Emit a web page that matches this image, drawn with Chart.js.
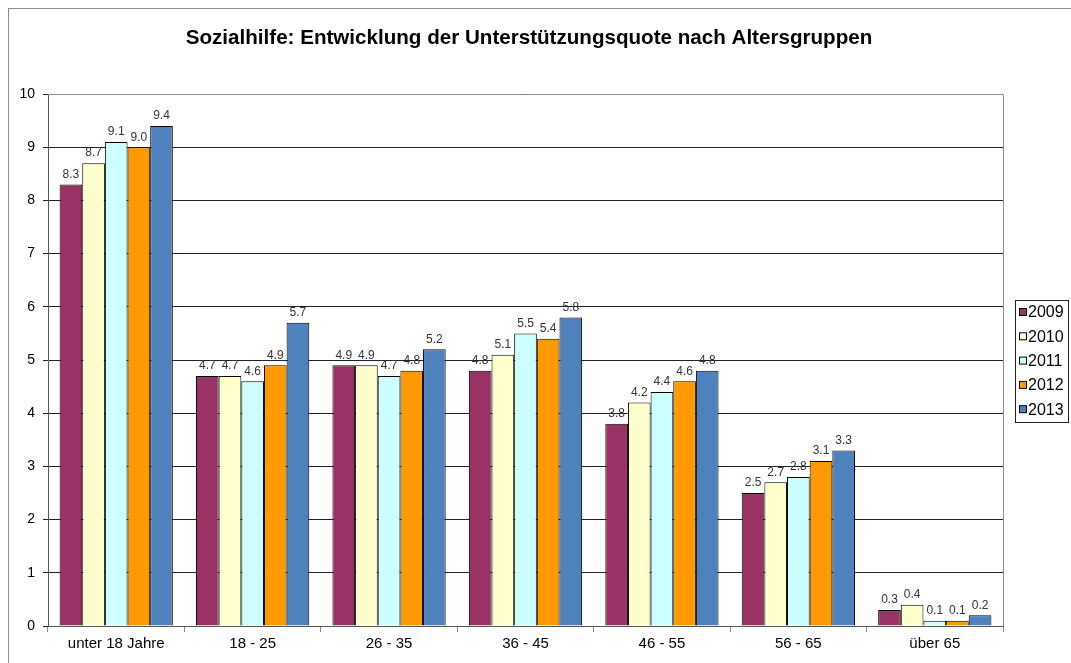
<!DOCTYPE html>
<html lang="de">
<head>
<meta charset="UTF-8">
<title>Sozialhilfe</title>
<script src="https://cdn.jsdelivr.net/npm/chart.js"></script>
<style>
    html, body { margin: 0; padding: 0; background: #fff; }
    canvas { display: block; }
</style>
</head>
<body>
<canvas id="chart" width="1071" height="663"></canvas>
<script>
// data
const groups = ["unter 18 Jahre", "18 - 25", "26 - 35", "36 - 45", "46 - 55", "56 - 65", "über 65"];
const years = ["2009", "2010", "2011", "2012", "2013"];
const y2009 = [8.3, 4.7, 4.9, 4.8, 3.8, 2.5, 0.3];
const y2010 = [8.7, 4.7, 4.9, 5.1, 4.2, 2.7, 0.4];
const y2011 = [9.1, 4.6, 4.7, 5.5, 4.4, 2.8, 0.1];
const y2012 = [9.0, 4.9, 4.8, 5.4, 4.6, 3.1, 0.1];
const y2013 = [9.4, 5.7, 5.2, 5.8, 4.8, 3.3, 0.2];
const colors = ["#993366", "#FFFFCC", "#CCFFFF", "#FF9900", "#4F81BD"];
const title = "Sozialhilfe: Entwicklung der Unterstützungsquote nach Altersgruppen";

const FONT = "'Liberation Sans', Arial, sans-serif";

// frame, title, plot border, value labels and boxed legend
const extras = {
    id: "extras",
    afterDraw(chart) {
        const ctx = chart.ctx;
        const a = chart.chartArea;
        ctx.save();
        // outer chart border
        ctx.strokeStyle = "#8c8c8c";
        ctx.lineWidth = 1;
        ctx.strokeRect(8.5, 8.5, 1100, 700);
        // plot area top/right border
        ctx.beginPath();
        ctx.moveTo(a.left, Math.round(a.top) + 0.5);
        ctx.lineTo(Math.round(a.right) + 0.5, Math.round(a.top) + 0.5);
        ctx.lineTo(Math.round(a.right) + 0.5, a.bottom);
        ctx.stroke();

        // title
        ctx.fillStyle = "#000";
        ctx.font = "bold 20.6px " + FONT;
        ctx.textAlign = "center";
        ctx.textBaseline = "middle";
        ctx.fillText(title, 529, 38);

        // value labels
        ctx.font = "12px " + FONT;
        ctx.fillStyle = "#333";
        ctx.textBaseline = "bottom";
        chart.data.datasets.forEach((ds, i) => {
            chart.getDatasetMeta(i).data.forEach((bar, j) => {
                ctx.fillText(ds.data[j].toFixed(1), bar.x, bar.y - 4);
            });
        });

        // legend
        ctx.strokeStyle = "#222";
        ctx.strokeRect(1015.5, 300.5, 53, 122);
        ctx.font = "16px " + FONT;
        ctx.textAlign = "left";
        ctx.textBaseline = "middle";
        years.forEach((y, i) => {
            const cy = 312 + i * 24.3;
            ctx.fillStyle = colors[i];
            ctx.fillRect(1019.5, cy - 3.5, 7, 7);
            ctx.strokeStyle = "#000";
            ctx.strokeRect(1019.5, cy - 3.5, 7, 7);
            ctx.fillStyle = "#000";
            ctx.fillText(y, 1028, cy + 1);
        });
        ctx.restore();
    }
};

const series = [y2009, y2010, y2011, y2012, y2013];

new Chart(document.getElementById("chart"), {
    type: "bar",
    data: {
        labels: groups,
        datasets: years.map((y, i) => ({
            label: y,
            data: series[i],
            backgroundColor: colors[i],
            borderColor: "#000",
            borderWidth: 1,
            categoryPercentage: 0.83,
            barPercentage: 1
        }))
    },
    options: {
        responsive: false,
        animation: false,
        layout: { padding: { top: 94, left: 0, right: 68, bottom: 0 } },
        plugins: {
            legend: { display: false },
            tooltip: { enabled: false },
            title: { display: false }
        },
        scales: {
            x: {
                offset: true,
                grid: {
                    offset: true,
                    drawOnChartArea: false,
                    drawTicks: true,
                    tickLength: 6,
                    color: "#888"
                },
                border: { color: "#555", width: 1 },
                ticks: {
                    color: "#000",
                    padding: 3,
                    font: { family: FONT, size: 15 }
                },
                afterFit(scale) { scale.height = 37; }
            },
            y: {
                min: 0,
                max: 10,
                ticks: {
                    stepSize: 1,
                    color: "#000",
                    padding: 8,
                    font: { family: FONT, size: 14 }
                },
                grid: { color: "#222", tickLength: 5 },
                border: { color: "#555", width: 1 },
                afterFit(scale) { scale.width = 48; }
            }
        }
    },
    plugins: [extras]
});
</script>
</body>
</html>
